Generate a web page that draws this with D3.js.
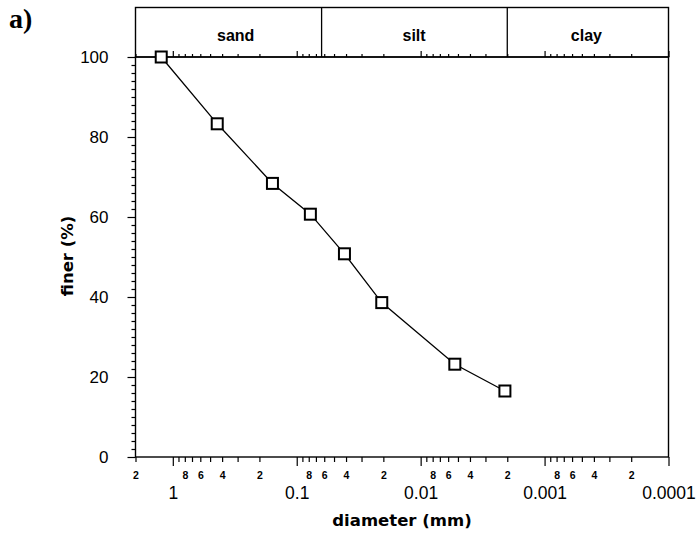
<!DOCTYPE html>
<html>
<head>
<meta charset="utf-8">
<script src="https://cdn.jsdelivr.net/npm/d3@7"></script>
<style>
  html, body { margin: 0; padding: 0; background: #fff; }
  svg { display: block; }
</style>
</head>
<body>
<svg id="chart" width="700" height="533"></svg>
<script>
// ---- data ----
const diameters = [1.24, 0.438, 0.157, 0.0776, 0.0412, 0.0206, 0.0053, 0.00209];
const finer = [100, 83.3, 68.4, 60.7, 50.8, 38.6, 23.2, 16.5];
const yTicks = [0, 20, 40, 60, 80, 100];
const decadeTicks = [1, 0.1, 0.01, 0.001, 0.0001];
const decadeLabels = ["1", "0.1", "0.01", "0.001", "0.0001"];
const minorLabelDigits = [2, 4, 6, 8];
const bands = ["sand", "silt", "clay"];
const bandEdges = [0.063, 0.002];
const bandLabelAt = [0.311, 0.0113, 0.00046];

// ---- layout ----
const svg = d3.select("#chart");
const pL = 135.5, pR = 668.5, pT = 57, pB = 457, boxTop = 7.5;
const x = d3.scaleLog().domain([2, 0.0001]).range([pL, pR]);
const y = d3.scaleLinear().domain([0, 100]).range([pB, pT]);

const sans = "'Liberation Sans', Arial, sans-serif";
const dv = "'DejaVu Sans', Verdana, sans-serif";

const isDecade = v => Math.abs(Math.log10(v) - Math.round(Math.log10(v))) < 1e-9;
const lead = v => Math.round(v / Math.pow(10, Math.floor(Math.log10(v) + 1e-9)));
const minorVals = x.ticks().filter(v => !isDecade(v));

function styleAxis(g) {
  g.select(".domain").remove();
  g.selectAll("line").attr("stroke", "#000").attr("stroke-width", 1.2);
  g.selectAll("text").attr("fill", "#000");
}

// bottom minor ticks + digit labels
svg.append("g").attr("transform", `translate(0,${pB})`)
  .call(d3.axisBottom(x).tickValues(minorVals).tickSize(5).tickPadding(10)
    .tickFormat(v => minorLabelDigits.includes(lead(v)) ? String(lead(v)) : ""))
  .call(styleAxis)
  .call(g => g.selectAll("text").attr("font-family", sans).attr("font-weight", "bold").attr("font-size", 10.5));

// bottom decade ticks + labels
svg.append("g").attr("transform", `translate(0,${pB})`)
  .call(d3.axisBottom(x).tickValues(decadeTicks).tickSize(9).tickPadding(20.5)
    .tickFormat((v, i) => decadeLabels[i]))
  .call(styleAxis)
  .call(g => g.selectAll("text").attr("font-family", sans).attr("font-size", 17.5));

// top ticks (inside the band box)
svg.append("g").attr("transform", `translate(0,${pT})`)
  .call(d3.axisTop(x).tickValues(minorVals).tickSize(3).tickFormat(""))
  .call(styleAxis);
svg.append("g").attr("transform", `translate(0,${pT})`)
  .call(d3.axisTop(x).tickValues(decadeTicks).tickSize(6).tickFormat(""))
  .call(styleAxis);

// y axis
svg.append("g").attr("transform", `translate(${pL},0)`)
  .call(d3.axisLeft(y).tickValues(d3.range(0, 101, 2).filter(v => v % 20 !== 0)).tickSize(4).tickFormat(""))
  .call(styleAxis);
svg.append("g").attr("transform", `translate(${pL},0)`)
  .call(d3.axisLeft(y).tickValues(yTicks).tickSize(8).tickPadding(19))
  .call(styleAxis)
  .call(g => g.selectAll("text").attr("font-family", sans).attr("font-size", 17));

// frame
svg.append("rect").attr("x", pL).attr("y", pT).attr("width", pR - pL).attr("height", pB - pT)
  .attr("fill", "none").attr("stroke", "#000").attr("stroke-width", 1.4);
// band box
svg.append("rect").attr("x", pL).attr("y", boxTop).attr("width", pR - pL).attr("height", pT - boxTop)
  .attr("fill", "none").attr("stroke", "#000").attr("stroke-width", 1.4);
svg.selectAll(".divider").data(bandEdges).enter().append("line")
  .attr("x1", d => x(d)).attr("x2", d => x(d)).attr("y1", boxTop).attr("y2", pT)
  .attr("stroke", "#000").attr("stroke-width", 1.3);
svg.selectAll(".band").data(bands).enter().append("text")
  .attr("x", (d, i) => x(bandLabelAt[i])).attr("y", 41)
  .attr("text-anchor", "middle").attr("font-family", sans).attr("font-weight", "bold").attr("font-size", 16)
  .text(d => d);

// line + markers
const pts = diameters.map((d, i) => [d, finer[i]]);
svg.append("path").datum(pts)
  .attr("d", d3.line().x(d => x(d[0])).y(d => y(d[1])))
  .attr("fill", "none").attr("stroke", "#000").attr("stroke-width", 1.3);
const s = 11;
svg.selectAll(".pt").data(pts).enter().append("rect")
  .attr("x", d => x(d[0]) - s / 2).attr("y", d => y(d[1]) - s / 2)
  .attr("width", s).attr("height", s)
  .attr("fill", "#fff").attr("stroke", "#000").attr("stroke-width", 2);

// titles
svg.append("text").attr("x", (pL + pR) / 2).attr("y", 526)
  .attr("text-anchor", "middle").attr("font-family", dv).attr("font-weight", "bold").attr("font-size", 16.5)
  .text("diameter (mm)");
svg.append("text").attr("transform", "translate(73,256) rotate(-90)")
  .attr("text-anchor", "middle").attr("font-family", dv).attr("font-weight", "bold").attr("font-size", 16.5)
  .text("finer (%)");
svg.append("text").attr("x", 9).attr("y", 28)
  .attr("font-family", "'Liberation Serif', 'Times New Roman', serif").attr("font-weight", "bold").attr("font-size", 28)
  .text("a)");
</script>
</body>
</html>
